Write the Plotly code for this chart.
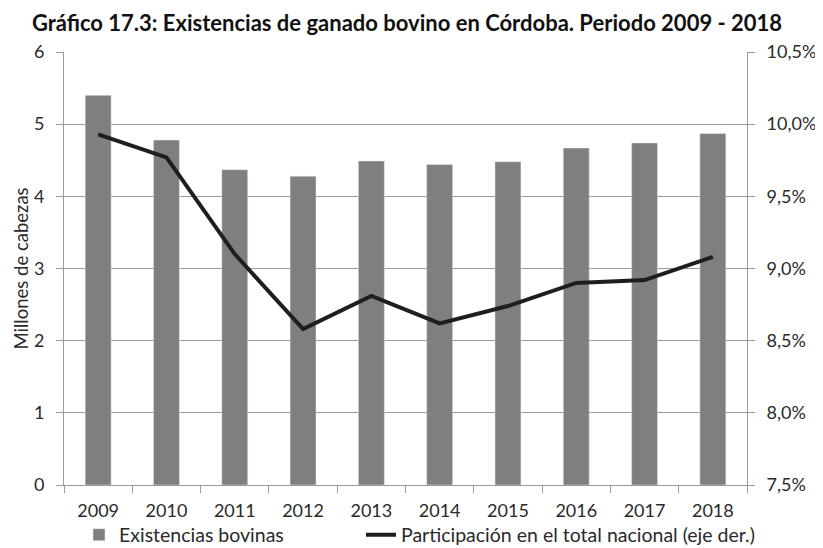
import plotly.graph_objects as go

# data
years = ['2009', '2010', '2011', '2012', '2013', '2014', '2015', '2016', '2017', '2018']
existencias = [5.40, 4.78, 4.37, 4.28, 4.49, 4.44, 4.48, 4.67, 4.74, 4.87]  # millones de cabezas
participacion = [9.93, 9.77, 9.10, 8.58, 8.81, 8.62, 8.74, 8.90, 8.92, 9.08]  # % total nacional

left_ticks = [0, 1, 2, 3, 4, 5, 6]
right_ticks = [7.5, 8.0, 8.5, 9.0, 9.5, 10.0, 10.5]
right_labels = [f'{v:.1f}%'.replace('.', ',') for v in right_ticks]

font_family = 'Lato, "Open Sans", sans-serif'
grid = '#9a9a9a'

# the page body adds an 8px margin, so the figure is 8px smaller than the window
W, H = 815, 540

fig = go.Figure()
fig.add_trace(go.Bar(x=years, y=existencias, name='Existencias bovinas',
                     marker_color='#7f7f7f', width=0.38, legend='legend'))
fig.add_trace(go.Scatter(x=years, y=participacion, name='Participación en el total nacional (eje der.)',
                         mode='lines', line=dict(color='#1e1e1e', width=4), yaxis='y2',
                         legend='legend2'))

# two legends so the second entry can sit where it does in the original
leg = dict(orientation='h', xref='container', yref='container', xanchor='left',
           yanchor='middle', y=13 / H, font=dict(size=19.5), itemwidth=30,
           bgcolor='rgba(0,0,0,0)')

fig.update_layout(
    width=W, height=H,
    margin=dict(l=56, r=76, t=44, b=63),
    paper_bgcolor='white', plot_bgcolor='white',
    font=dict(family=font_family, size=18, color='#2a2a2a'),
    title=dict(text='<b>Gráfico 17.3: Existencias de ganado bovino en Córdoba. Periodo 2009 - 2018</b>',
               x=399 / W, xref='container', xanchor='center', y=1 - 15 / H, yref='container',
               yanchor='middle', automargin=False, font=dict(size=22, color='#111')),
    xaxis=dict(type='category', showgrid=False, showline=True, linecolor=grid, automargin=False,
               ticks='outside', tickson='boundaries', ticklen=7, tickcolor=grid,
               ticklabelstandoff=9),
    yaxis=dict(range=[0, 6], tickvals=left_ticks, showgrid=True, gridcolor=grid,
               showline=True, linecolor=grid, ticks='outside', ticklen=7, tickcolor=grid,
               ticklabelstandoff=8, automargin=False, zeroline=False),
    yaxis2=dict(range=[7.5, 10.5], tickvals=right_ticks, ticktext=right_labels, automargin=False,
                overlaying='y', side='right', showgrid=False, showline=True, linecolor=grid,
                ticks='outside', ticklen=7, tickcolor=grid, ticklabelstandoff=8, zeroline=False),
    legend=dict(leg, x=71 / W),
    legend2=dict(leg, x=353 / W),
    showlegend=True,
)

# left axis title placed by hand, closer to the tick labels than plotly puts it
fig.add_annotation(text='Millones de cabezas', textangle=-90, showarrow=False,
                   xref='paper', x=-44 / 683, xanchor='center', yref='paper', y=0.5,
                   font=dict(size=18.5, color='#2a2a2a'))

fig.write_html("out.html")
